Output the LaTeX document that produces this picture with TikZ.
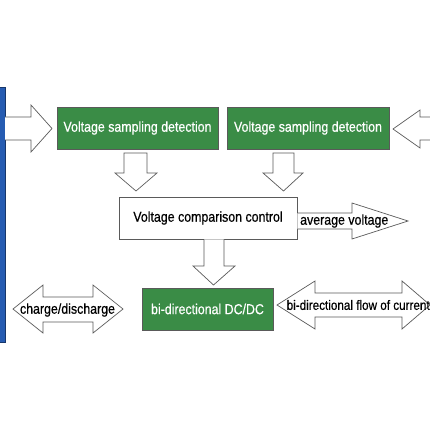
\documentclass[tikz,border=0pt]{standalone}
\usepackage{fontspec}
\setmainfont{Liberation Sans}
\newfontfamily\labfont[FakeStretch=0.86,FakeBold=0.5]{Liberation Sans}
\definecolor{boxgreen}{RGB}{58,140,70}
\definecolor{barblue}{RGB}{38,92,178}
\definecolor{edgegray}{RGB}{90,90,90}
\begin{document}
\begin{tikzpicture}[x=1pt,y=-1pt,
  greenbox/.style={draw=edgegray,fill=boxgreen,line width=0.8pt,text=white,font=\labfont\fontsize{14.4}{16}\selectfont},
  whitebox/.style={draw=edgegray,fill=white,line width=0.8pt,font=\labfont\fontsize{14.4}{16}\selectfont},
  fatarrow/.style={draw=edgegray,fill=white,line width=0.7pt,line join=miter},
  lbl/.style={font=\labfont\fontsize{14.4}{16}\selectfont,inner sep=0pt}]
\useasboundingbox (0,0) rectangle (430,430);
\fill[white] (0,0) rectangle (430,430);
% blue bar
\filldraw[fill=barblue,draw=barblue!60!black,line width=0.6pt] (-1,87) rectangle (5,342);
% green boxes
\node[greenbox,minimum width=161pt,minimum height=42pt,inner sep=0pt] (vs1) at (137.5,128) {Voltage sampling detection};
\node[greenbox,minimum width=162pt,minimum height=42pt,inner sep=0pt] (vs2) at (308,128) {Voltage sampling detection};
\node[whitebox,minimum width=178pt,minimum height=42pt,inner sep=0pt] (vc) at (208,218) {Voltage comparison control};
\node[greenbox,minimum width=131pt,minimum height=42pt,inner sep=0pt] (dc) at (207.5,309) {bi-directional DC/DC};
% input arrow left
\draw[fatarrow] (5,117) -- (31,117) -- (31,105) -- (52,128.5) -- (31,152) -- (31,140) -- (5,140);
% input arrow right
\draw[fatarrow] (432,117) -- (420,117) -- (420,110) -- (393,129) -- (420,148) -- (420,140) -- (432,140);
% down arrows
\draw[fatarrow] (124,153) -- (124,173) -- (115,173) -- (136,191) -- (157,173) -- (147,173) -- (147,153) -- cycle;
\draw[fatarrow] (273,153) -- (273,173) -- (263,173) -- (283.5,191) -- (303,173) -- (294,173) -- (294,153) -- cycle;
\draw[fatarrow] (204,239.4) -- (204,266) -- (193,266) -- (213.5,285) -- (235,266) -- (224,266) -- (224,239.4);
% average voltage arrow
\draw[fatarrow] (297.4,213) -- (352,213) -- (352,203) -- (408,221) -- (352,239) -- (352,229) -- (297.4,229);
\node[lbl,anchor=west] (av) at (300,221) {average voltage};
% charge/discharge double arrow
\draw[fatarrow] (13,309) -- (43,285) -- (43,297) -- (93,297) -- (93,285) -- (123,309) -- (93,333) -- (93,322) -- (43,322) -- (43,333) -- cycle;
\node[lbl] (cd) at (67.5,310) {charge/discharge};
% bi-directional flow double arrow
\draw[fatarrow] (277,305) -- (315,281) -- (315,293) -- (402,293) -- (402,281) -- (430,305) -- (402,329) -- (402,317) -- (315,317) -- (315,329) -- cycle;
\node[lbl,anchor=west,font=\labfont\fontsize{13.6}{15}\selectfont] (bf) at (286.5,305) {bi-directional flow of current};
\end{tikzpicture}
\end{document}
